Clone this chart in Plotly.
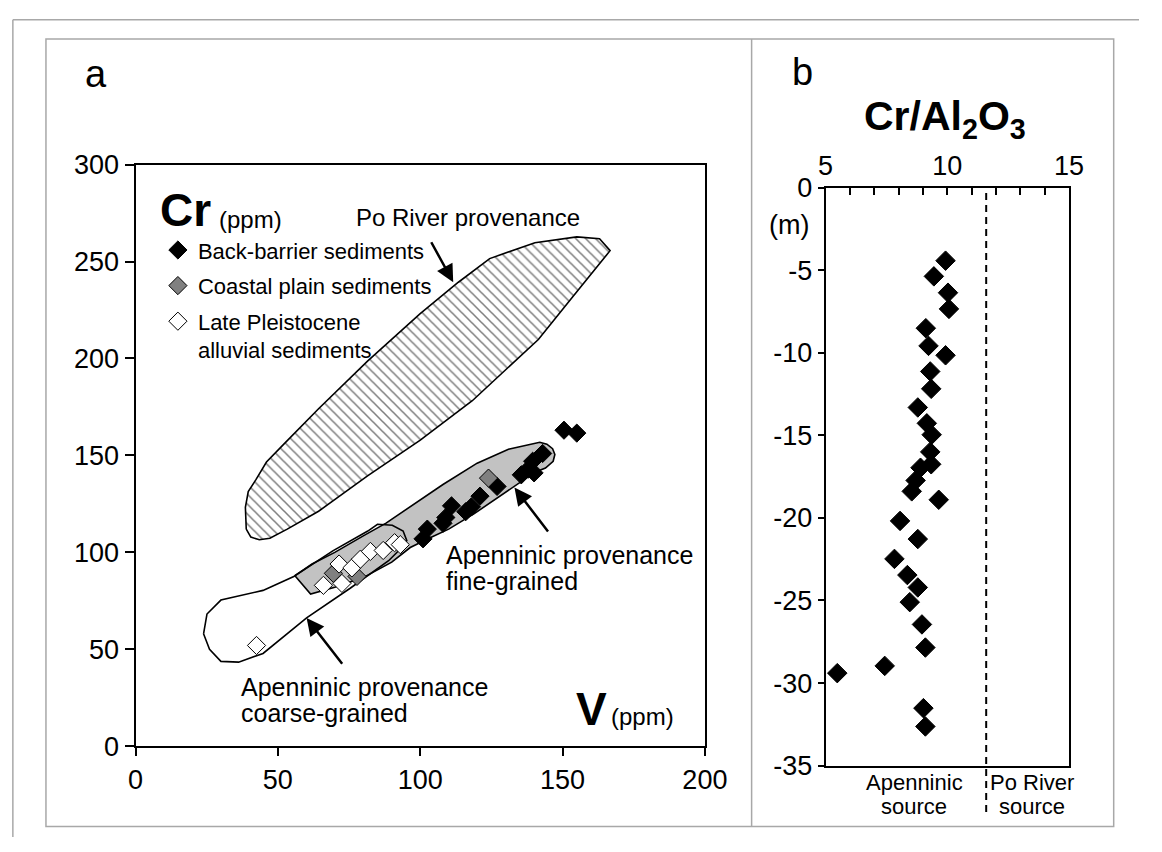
import plotly.graph_objects as go

W, H = 1162, 852
FONT = "Liberation Sans, Arial, sans-serif"

# ---------------- Panel a data ----------------
back_v = [150.5, 155, 143, 139.5, 138, 135.5, 140, 127, 121, 118, 116, 111, 109, 108, 102.5, 101]
back_cr = [163, 161.5, 151, 147, 143, 140, 141, 134, 129, 123.5, 121, 124, 118, 115, 112, 107]
coast_v = [124, 69.5, 77.8]
coast_cr = [138.3, 89.2, 87.6]
pleist_v = [42.5, 66, 72.5, 71.5, 76, 79, 82.5, 87, 91, 93]
pleist_cr = [52, 83, 84, 94, 92, 96.5, 100.5, 101, 105, 104]

po_v = [38.9, 40.5, 43.5, 47.2, 53.3, 64.3, 81.5, 99.9, 118.3, 141.5, 153.8, 166.7, 163, 155,
        140.3, 124.4, 113.4, 99.9, 81.5, 64.3, 52.1, 46, 42.3, 39.6, 38.6, 38.9]
po_cr = [112, 107.9, 106.5, 107.3, 112, 121.2, 139.5, 157.8, 178.2, 209.8, 232.2, 255.6, 261.7, 262.7,
         259.7, 251.5, 239.3, 223, 198.6, 174.1, 155.8, 146.6, 137.5, 131.4, 123.2, 112]
fine_v = [56, 61.5, 70, 80, 90, 96.5, 103.5, 110, 119, 126, 133, 140.5, 144, 146.7, 147.3, 146.5, 144.5,
          142, 131, 120, 108, 96.5, 88, 80, 70, 62, 56]
fine_cr = [88, 78.5, 82, 87, 95, 102.5, 107.5, 112, 120, 127, 134, 141.5, 143.5, 147, 150.5, 153.5, 155.8,
           156.8, 153.2, 146, 135, 123.4, 115.1, 108.5, 100, 94, 88]
coarse_v = [23.9, 26, 30, 36.2, 44.8, 60.1, 75.4, 88.9, 93.8, 95.3, 94, 90.2, 85, 81.6, 69.3, 55.6,
            44.8, 30, 25.1, 23.9]
coarse_cr = [58, 50, 43.8, 43.4, 47.9, 66.2, 81.5, 95.7, 102.9, 106, 111, 114, 114.5, 111, 100.8, 87.6,
             80.4, 75.4, 68.2, 58]

xa_ticks = [0, 50, 100, 150, 200]
ya_ticks = [0, 50, 100, 150, 200, 250, 300]

# ---------------- Panel b data ----------------
ratio = [9.93, 9.45, 10.03, 10.07, 9.12, 9.23, 9.93, 9.30, 9.34, 8.79, 9.16, 9.36, 9.30, 9.34, 8.90,
         8.70, 8.54, 9.65, 8.06, 8.79, 7.83, 8.36, 8.79, 8.46, 8.96, 9.10, 7.43, 5.48, 9.02, 9.10]
depth = [-4.42, -5.37, -6.36, -7.34, -8.51, -9.58, -10.15, -11.13, -12.18, -13.31, -14.27, -14.96,
         -16.0, -16.75, -16.96, -17.73, -18.39, -18.9, -20.18, -21.28, -22.48, -23.46, -24.21, -25.1,
         -26.45, -27.85, -28.96, -29.4, -31.52, -32.63]
xb_ticks = list(range(5, 16))
xb_text = ["5", "", "", "", "", "10", "", "", "", "", "15"]
yb_ticks = [0, -5, -10, -15, -20, -25, -30, -35]
yb_text = ["0", "-5", "-10", "-15", "-20", "-25", "-30", "-35"]
po_limit = 11.6

def px(x):
    return x / W

def py(y):
    return 1 - y / H

fig = go.Figure()

# provenance fields
fig.add_trace(go.Scatter(x=po_v, y=po_cr, mode="lines", fill="toself",
                         line=dict(color="black", width=1.6),
                         fillcolor="white",
                         fillpattern=dict(shape="\\", size=7, solidity=0.22, fgcolor="black", bgcolor="white"),
                         showlegend=False, hoverinfo="skip", xaxis="x", yaxis="y"))
fig.add_trace(go.Scatter(x=fine_v, y=fine_cr, mode="lines", fill="toself",
                         line=dict(color="black", width=1.6), fillcolor="#c2c2c2",
                         showlegend=False, hoverinfo="skip", xaxis="x", yaxis="y"))
fig.add_trace(go.Scatter(x=coarse_v, y=coarse_cr, mode="lines",
                         line=dict(color="black", width=1.6),
                         showlegend=False, hoverinfo="skip", xaxis="x", yaxis="y"))

# samples
fig.add_trace(go.Scatter(x=back_v, y=back_cr, mode="markers", name="Back-barrier sediments",
                         legendgroup="g1",
                         marker=dict(symbol="diamond", size=14, color="black",
                                     line=dict(color="black", width=1)), xaxis="x", yaxis="y"))
fig.add_trace(go.Scatter(x=coast_v, y=coast_cr, mode="markers", name="Coastal plain sediments",
                         legendgroup="g2",
                         marker=dict(symbol="diamond", size=14, color="#808080",
                                     line=dict(color="black", width=1)), xaxis="x", yaxis="y"))
fig.add_trace(go.Scatter(x=pleist_v, y=pleist_cr, mode="markers",
                         name="Late Pleistocene<br>alluvial sediments", legendgroup="g3",
                         marker=dict(symbol="diamond", size=14, color="white",
                                     line=dict(color="black", width=1)), xaxis="x", yaxis="y"))

# panel b
fig.add_trace(go.Scatter(x=ratio, y=depth, mode="markers", showlegend=False,
                         marker=dict(symbol="diamond", size=15, color="black",
                                     line=dict(color="black", width=1)), xaxis="x2", yaxis="y2"))

def axis_common(size):
    return dict(showline=True, linecolor="black", linewidth=2, mirror=True, showgrid=False,
                zeroline=False, tickcolor="black", tickwidth=2,
                tickfont=dict(family=FONT, size=size, color="black"))

fig.update_layout(
    width=W, height=H, margin=dict(l=0, r=0, t=0, b=0),
    paper_bgcolor="white", plot_bgcolor="white",
    font=dict(family=FONT, color="black"),
    xaxis=dict(domain=[131 / W, 716 / W], range=[0, 200], tickvals=xa_ticks, ticks="outside",
               ticklen=8, anchor="y", **axis_common(27)),
    yaxis=dict(domain=[1 - 758 / H, 1 - 155 / H], range=[0, 300], tickvals=ya_ticks, ticks="outside",
               ticklen=9, anchor="x", **axis_common(27)),
    xaxis2=dict(domain=[840 / W, 1090 / W], range=[5, 15], tickvals=xb_ticks, ticktext=xb_text,
                ticks="inside", ticklen=7, side="top", anchor="y2", **axis_common(27)),
    yaxis2=dict(domain=[1 - 778 / H, 1 - 179 / H], range=[-35, 0], tickvals=yb_ticks, ticktext=yb_text,
                ticks="outside", ticklen=6, anchor="x2", **axis_common(27)),
    legend=dict(x=154 / W, y=1 - 222 / H, xanchor="left", yanchor="top", bgcolor="rgba(0,0,0,0)",
                font=dict(family=FONT, size=22, color="black"), tracegroupgap=4, valign="top",
                itemclick=False),
)

# frames
gray = "#a8a8a8"
fig.add_shape(type="line", xref="paper", yref="paper", x0=px(5), x1=1, y0=py(5), y1=py(5),
              line=dict(color=gray, width=1.5))
fig.add_shape(type="line", xref="paper", yref="paper", x0=px(5), x1=px(5), y0=py(5), y1=0,
              line=dict(color=gray, width=1.5))
fig.add_shape(type="rect", xref="paper", yref="paper", x0=px(39), x1=px(1136), y0=py(841), y1=py(25),
              line=dict(color=gray, width=1.5))
fig.add_shape(type="line", xref="paper", yref="paper", x0=px(764), x1=px(764), y0=py(841), y1=py(25),
              line=dict(color=gray, width=1.5))

# dashed boundary in panel b
fig.add_shape(type="line", xref="x2", yref="paper", x0=po_limit, x1=po_limit, y0=py(826), y1=py(179),
              line=dict(color="black", width=2, dash="7px,5px"))

def txt(x, y, s, size, xref="paper", yref="paper", xanchor="left", yanchor="middle", bold=False):
    fig.add_annotation(x=x, y=y, xref=xref, yref=yref, text=("<b>%s</b>" % s) if bold else s,
                       showarrow=False, xanchor=xanchor, yanchor=yanchor,
                       font=dict(family=FONT, size=size, color="black"))

# panel letters
txt(px(90), py(61), "a", 38, xanchor="center")
txt(px(816), py(59), "b", 38, xanchor="center")

# panel a labels
txt(8, 276.5, "Cr", 46, xref="x", yref="y", bold=True)
txt(28.5, 271.5, "(ppm)", 24, xref="x", yref="y")
txt(153.9, 19.3, "V", 46, xref="x", yref="y", bold=True)
txt(166.2, 15.5, "(ppm)", 24, xref="x", yref="y")
txt(76.7, 272.9, "Po River provenance", 24, xref="x", yref="y")
txt(108.5, 98.8, "Apenninic provenance", 25, xref="x", yref="y")
txt(108.5, 85.5, "fine-grained", 25, xref="x", yref="y")
txt(36.2, 30.5, "Apenninic provenance", 25, xref="x", yref="y")
txt(36.2, 17.3, "coarse-grained", 25, xref="x", yref="y")

# arrows
for (tx, ty, hx, hy) in [(103.6, 260.7, 111.6, 239.3), (145.3, 110, 133.1, 133.4), (73, 41.8, 60.1, 66.2)]:
    fig.add_annotation(x=hx, y=hy, ax=tx, ay=ty, xref="x", yref="y", axref="x", ayref="y",
                       showarrow=True, arrowhead=2, arrowsize=1.4, arrowwidth=2.5, arrowcolor="black",
                       text="")

# panel b labels
txt(px(963), py(108), "Cr/Al<sub>2</sub>O<sub>3</sub>", 41, xanchor="center", bold=True)
txt(px(802), py(218), "(m)", 27, xanchor="center")
txt(px(931), py(795), "Apenninic", 22, xanchor="center")
txt(px(931), py(820), "source", 22, xanchor="center")
txt(px(1052), py(795), "Po River", 22, xanchor="center")
txt(px(1052), py(820), "source", 22, xanchor="center")

fig.write_html("out.html", config={"displayModeBar": False},
               post_script="document.body.style.margin='0';document.body.style.overflow='hidden';")
